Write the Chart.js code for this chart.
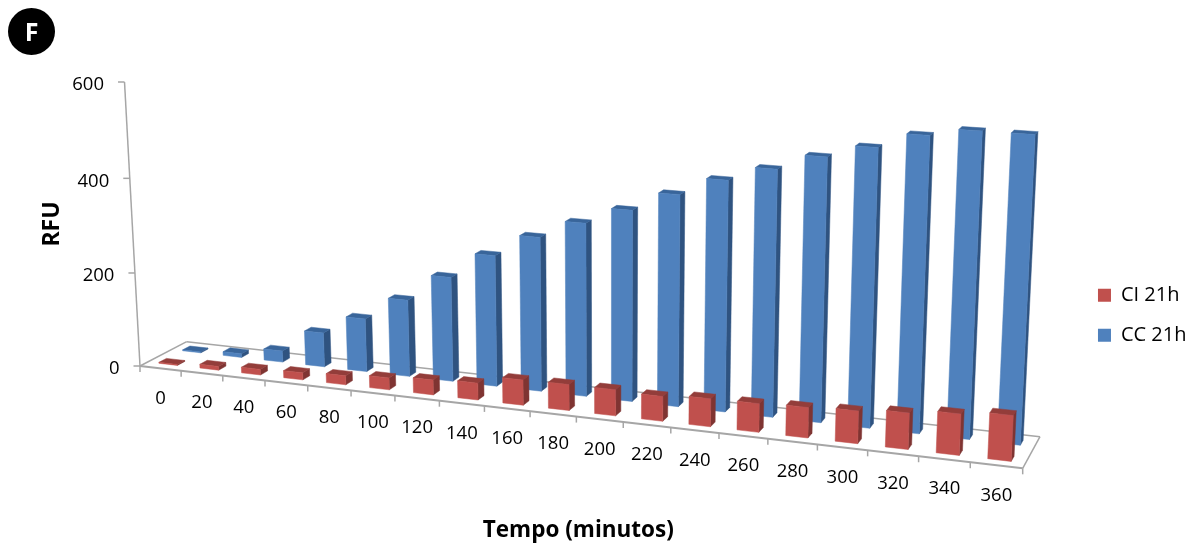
<!DOCTYPE html>
<html>
<head>
<meta charset="utf-8">
<title>RFU</title>
<script src="https://cdn.jsdelivr.net/npm/chart.js@4"></script>
<style>
    html, body { margin: 0; padding: 0; background: #fff; }
    #wrap { position: relative; width: 1198px; height: 549px; }
    #badge {
        position: absolute; left: 8px; top: 8px; width: 47px; height: 47px; border-radius: 50%;
        background: #000; color: #fff; font: bold 25px "Open Sans", sans-serif;
        line-height: 47px; text-align: center;
    }
</style>
</head>
<body>
<div id="wrap">
    <div id="badge">F</div>
    <canvas id="chart"></canvas>
</div>
<script>
const categories = ['0', '20', '40', '60', '80', '100', '120', '140', '160', '180', '200', '220', '240', '260', '280', '300', '320', '340', '360'];
const ciValues = [2, 8, 12, 15, 19, 25, 31, 35, 52, 53, 53, 50, 56, 57, 60, 64, 71, 80, 88];
const ccValues = [2, 8, 24, 73, 113, 162, 219, 273, 319, 356, 390, 429, 465, 494, 525, 550, 580, 595, 595];
const yTicks = [0, 200, 400, 600];

const seriesNames = ['CI 21h', 'CC 21h'];
const seriesColors = ['#c0504d', '#4f81bd'];
const sideColors = ['#7f3432', '#2f5380'];
const topColors = ['#933d3a', '#39659a'];
const rowDepths = [[0.16, 0.32], [0.67, 0.83]];

const textFont = '"Open Sans", sans-serif';

// Floor of the 3D box, screen corners of the perspective view
const floorFL = [140, 366];
const floorFR = [1022.7, 468.3];
const floorBR = [1040, 436.7];
const floorBL = [186.7, 341.7];
const verticalCenter = 610;
const verticalTilt = 1.16e-4;
// Heights stretch a little towards the top of the box
const heightStretch = 9.15e-5;

// Homography from the unit floor square to the screen
const det = (p, q) => p[0] * q[1] - p[1] * q[0];
const dx1 = [floorFR[0] - floorBR[0], floorFR[1] - floorBR[1]];
const dx2 = [floorBL[0] - floorBR[0], floorBL[1] - floorBR[1]];
const sum = [floorFL[0] - floorFR[0] + floorBR[0] - floorBL[0], floorFL[1] - floorFR[1] + floorBR[1] - floorBL[1]];
const g = det(sum, dx2) / det(dx1, dx2);
const h = det(dx1, sum) / det(dx1, dx2);

function project(area, xPx, height, depth) {
    const u = (xPx - area.left) / area.width;
    const w = 1 + g * u + h * depth;
    const fx = ((floorFR[0] * (1 + g) - floorFL[0]) * u + (floorBL[0] * (1 + h) - floorFL[0]) * depth + floorFL[0]) / w;
    const fy = ((floorFR[1] * (1 + g) - floorFL[1]) * u + (floorBL[1] * (1 + h) - floorFL[1]) * depth + floorFL[1]) / w;
    const full = area.height;
    const stretched = height * (1 - heightStretch * full) / (1 - heightStretch * height);
    const up = stretched / w;
    return [fx + (fx - verticalCenter) * verticalTilt * up, fy - up];
}

function fillFace(ctx, points, color) {
    ctx.beginPath();
    points.forEach((p, i) => (i ? ctx.lineTo(p[0], p[1]) : ctx.moveTo(p[0], p[1])));
    ctx.closePath();
    ctx.fillStyle = color;
    ctx.strokeStyle = color;
    ctx.lineWidth = 0.5;
    ctx.fill();
    ctx.stroke();
}

function strokeLine(ctx, a, b, width) {
    ctx.beginPath();
    ctx.moveTo(a[0], a[1]);
    ctx.lineTo(b[0], b[1]);
    ctx.lineWidth = width;
    ctx.stroke();
}

const box3d = {
    id: 'box3d',
    afterLayout(chart) {
        chart.legend.top += 2;
        chart.legend.bottom += 2;
    },
    beforeDatasetsDraw(chart) {
        const { ctx, chartArea: area, scales } = chart;
        const axisHeight = area.bottom - area.top;
        const xs = scales.x;
        const ys = scales.y;
        const step = area.width / categories.length;

        ctx.save();
        ctx.strokeStyle = '#a6a6a6';

        // floor outline
        strokeLine(ctx, floorFL, floorBL, 1.5);
        strokeLine(ctx, floorBL, floorBR, 1.5);
        strokeLine(ctx, floorBR, floorFR, 1.5);
        strokeLine(ctx, floorFL, floorFR, 2);

        // value axis, it leans with the perspective
        strokeLine(ctx, project(area, area.left, 0, 0), project(area, area.left, axisHeight, 0), 1.5);
        ctx.font = '18.5px ' + textFont;
        ctx.fillStyle = '#000';
        ctx.textAlign = 'right';
        ctx.textBaseline = 'middle';
        yTicks.forEach(value => {
            const p = project(area, area.left, ys.bottom - ys.getPixelForValue(value), 0);
            strokeLine(ctx, p, [p[0] - 6.5, p[1]], 1.5);
            ctx.fillText(String(value), p[0] - 20.5, p[1] + 3);
        });

        // category axis ticks and labels
        for (let i = 0; i <= categories.length; i++) {
            const p = project(area, area.left + i * step, 0, 0);
            strokeLine(ctx, p, [p[0], p[1] + 6], 1.5);
        }
        ctx.textAlign = 'center';
        categories.forEach((label, i) => {
            const p = project(area, xs.getPixelForValue(i), 0, 0);
            ctx.fillText(label, p[0], p[1] + 30);
        });

        // back row first, front row goes over it
        for (let s = chart.data.datasets.length - 1; s >= 0; s--) {
            const [d0, d1] = rowDepths[s];
            chart.getDatasetMeta(s).data.forEach(bar => {
                const left = bar.x - bar.width / 2;
                const right = bar.x + bar.width / 2;
                const top = bar.base - bar.y;
                fillFace(ctx, [project(area, right, 0, d0), project(area, right, 0, d1), project(area, right, top, d1), project(area, right, top, d0)], sideColors[s]);
                fillFace(ctx, [project(area, left, top, d0), project(area, right, top, d0), project(area, right, top, d1), project(area, left, top, d1)], topColors[s]);
                fillFace(ctx, [project(area, left, 0, d0), project(area, right, 0, d0), project(area, right, top, d0), project(area, left, top, d0)], seriesColors[s]);
            });
        }
        ctx.restore();
        return false;
    }
};

new Chart(document.getElementById('chart'), {
    type: 'bar',
    data: {
        labels: categories,
        datasets: [
            { label: seriesNames[0], data: ciValues, backgroundColor: seriesColors[0] },
            { label: seriesNames[1], data: ccValues, backgroundColor: seriesColors[1] }
        ]
    },
    options: {
        responsive: true,
        maintainAspectRatio: false,
        animation: false,
        grouped: false,
        barPercentage: 0.45,
        categoryPercentage: 1,
        layout: { padding: { left: 39, top: 82, right: 1.5, bottom: 4.5 } },
        scales: {
            x: {
                offset: true,
                grid: { display: false, drawTicks: false },
                border: { display: false },
                ticks: { display: false },
                title: {
                    display: true,
                    text: 'Tempo (minutos)',
                    color: '#000',
                    font: { family: textFont, size: 22.5, weight: 'bold' },
                    padding: { top: 151.5, bottom: 0 }
                }
            },
            y: {
                min: 0,
                max: 600,
                grid: { display: false, tickLength: 12 },
                border: { display: false },
                ticks: { display: false, stepSize: 200 },
                title: {
                    display: true,
                    text: 'RFU',
                    color: '#000',
                    font: { family: textFont, size: 23, weight: 'bold' },
                    padding: 0
                }
            }
        },
        plugins: {
            tooltip: { enabled: false },
            legend: {
                position: 'right',
                labels: {
                    boxWidth: 13,
                    boxHeight: 13,
                    padding: 20,
                    color: '#000',
                    font: { family: textFont, size: 20 }
                }
            }
        }
    },
    plugins: [box3d]
});
</script>
</body>
</html>
